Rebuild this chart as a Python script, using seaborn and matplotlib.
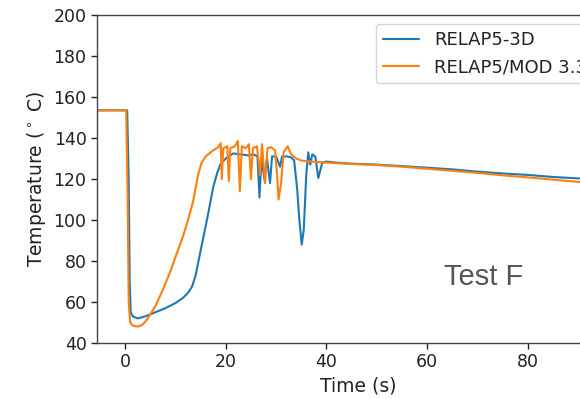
import numpy as np
import pandas as pd
import matplotlib
matplotlib.use("Agg")
import matplotlib.pyplot as plt
import seaborn as sns

# ---- data ----
t_3d = [-5.6, 0.4, 0.7, 0.9, 1.1, 1.5, 2.5, 4, 6, 8, 10, 11.5, 12.5, 13.3, 14, 15,
        16.5, 17.5, 18.3, 19, 20, 21.5, 23, 24.5, 25.5, 26.3, 26.7, 27.1, 27.7, 28.2,
        28.8, 29.2, 30, 30.8, 31.2, 32.2, 33.0, 33.6, 34.2, 34.6, 35.1, 35.5, 36.0,
        36.4, 36.8, 37.2, 37.8, 38.4, 39.2, 40, 42, 45, 50, 55, 60, 65, 70, 75, 80,
        85, 90, 95]
T_3d = [153.5, 153.5, 120, 70, 55, 53, 52, 53, 55, 57, 59.5, 62, 64.5, 67.5, 73, 85,
        103, 116, 123, 127.5, 130, 132.5, 132, 131.5, 132, 131, 111, 130, 119.5, 130,
        118, 131, 131, 126, 131, 131, 130.5, 129, 115, 101, 88, 95, 122,
        133, 127, 132, 131, 120.5, 128, 128.5, 128, 127.5, 127, 126.3, 125.5, 124.7,
        123.6, 122.7, 122, 121, 120.3, 119.5]

t_mod = [-5.6, 0.2, 0.5, 0.7, 1.0, 1.5, 2.5, 3.5, 4.5, 6, 7.5, 9, 10, 11.5, 12.5,
         13.5, 14.5, 15.2, 16, 17.5, 18.5, 19.0, 19.2, 19.5, 20.3, 20.6, 20.9, 21.8,
         22.4, 22.8, 23.2, 24.0, 24.6, 25.0, 25.4, 26.2, 26.8, 27.2, 27.8, 28.3, 29.0,
         29.8, 30.2, 30.5, 31.0, 31.5, 32.3, 33.0, 34.0, 35.0, 37, 40, 45, 50, 55, 60,
         65, 70, 75, 80, 85, 90, 95]
T_mod = [153.5, 153.5, 110, 60, 50, 48.5, 48, 49, 52, 58, 66, 75, 82, 92, 100,
         109, 122, 128, 131, 134, 135.5, 137.5, 120, 135, 136, 119, 135, 136,
         138.5, 114, 136, 135, 137, 120, 135, 136, 122, 137, 118, 135, 135.5,
         134, 122, 110, 118, 133, 136, 132, 130, 129, 128.5, 128, 127.3, 126.8, 126,
         125, 124, 123, 121.8, 120.8, 119.7, 118.6, 117.6]

series_names = ["RELAP5-3D", "RELAP5/MOD 3.3"]
x_ticks = [0, 20, 40, 60, 80]
y_ticks = [40, 60, 80, 100, 120, 140, 160, 180, 200]

df = pd.concat([
    pd.DataFrame({"Time": t_3d, "Temp": T_3d, "Code": series_names[0]}),
    pd.DataFrame({"Time": t_mod, "Temp": T_mod, "Code": series_names[1]}),
], ignore_index=True)

# ---- style ----
sns.set_style("white")
plt.rcParams["font.family"] = ["DejaVu Sans"]

W, H = 580, 399
fig = plt.figure(figsize=(W / 100, H / 100), dpi=100)
left_px, right_px, top_px, bottom_px = 97, 620, 15, 343
xmin = -5.6
px_per_unit = 5.03
xmax = xmin + (right_px - left_px) / px_per_unit
ax = fig.add_axes([left_px / W, 1 - bottom_px / H,
                   (right_px - left_px) / W, (bottom_px - top_px) / H])

sns.lineplot(data=df, x="Time", y="Temp", hue="Code",
             palette={series_names[0]: "#1f77b4", series_names[1]: "#ff7f0e"},
             linewidth=1.5, ax=ax, estimator=None, sort=False)

ax.set_xlim(xmin, xmax)
ax.set_ylim(40, 200)
ax.set_xticks(x_ticks)
ax.set_yticks(y_ticks)
ax.tick_params(axis="both", labelsize=12.5, colors="#222222", length=4,
               width=1, direction="out", bottom=True, left=True)
for s in ax.spines.values():
    s.set_color("#444444")
    s.set_linewidth(1.0)

ax.set_xlabel("Time (s)", fontsize=13.5, color="#222222")
ax.set_ylabel("Temperature ($^\\circ$ C)", fontsize=13.5, color="#222222")

leg = ax.legend(loc="upper left", bbox_to_anchor=(376 / W, 1 - 24 / H),
                bbox_transform=fig.transFigure, borderaxespad=0,
                fontsize=13, frameon=True, fancybox=True, title=None,
                handlelength=2.0)
leg.get_frame().set_edgecolor("#cccccc")
for txt in leg.get_texts():
    txt.set_color("#222222")

ax.text(71.2, 72, "Test F", fontsize=21, color="#555555",
        ha="center", va="center", family=["Liberation Sans", "DejaVu Sans"])

fig.savefig("out.png", dpi=100)
